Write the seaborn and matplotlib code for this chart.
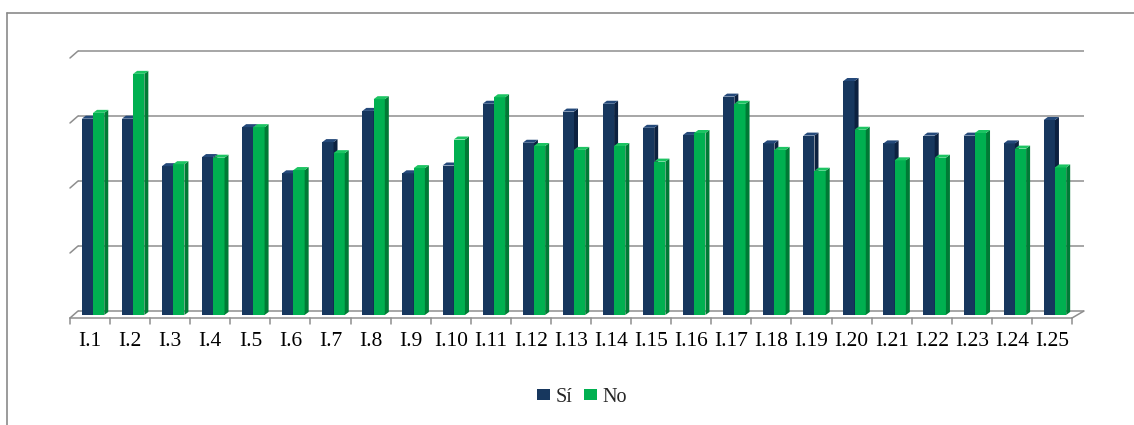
import matplotlib
matplotlib.use("Agg")
import matplotlib.pyplot as plt
from matplotlib.lines import Line2D
from matplotlib.patches import Polygon
from matplotlib.transforms import ScaledTranslation
import pandas as pd
import seaborn as sns

# ---- data ----------------------------------------------------------------
categories = ["I.1", "I.2", "I.3", "I.4", "I.5", "I.6", "I.7", "I.8", "I.9",
              "I.10", "I.11", "I.12", "I.13", "I.14", "I.15", "I.16", "I.17",
              "I.18", "I.19", "I.20", "I.21", "I.22", "I.23", "I.24", "I.25"]
si_values = [30.2, 30.2, 22.9, 24.3, 28.9, 21.8, 26.6, 31.4, 21.8, 23.0,
             32.5, 26.5, 31.3, 32.5, 28.8, 27.7, 33.6, 26.4, 27.6, 36.0,
             26.4, 27.6, 27.6, 26.4, 30.0]
no_values = [31.1, 37.1, 23.2, 24.2, 28.9, 22.3, 24.9, 33.2, 22.6, 27.0,
             33.5, 26.0, 25.4, 26.0, 23.6, 28.0, 32.5, 25.4, 22.2, 28.5,
             23.8, 24.2, 28.0, 25.6, 22.7]
series_names = ["Sí", "No"]
grid_values = [0, 10, 20, 30, 40]

# ---- styling ---------------------------------------------------------------
FRONT = {"Sí": "#17375E", "No": "#00B050"}
SIDE = {"Sí": "#0C2140", "No": "#007A35"}
TOP = {"Sí": "#24497A", "No": "#1CC462"}
GRID = "#8E8E8E"
SERIF = ["Liberation Serif", "DejaVu Serif"]

df = pd.DataFrame({
    "cat": categories * 2,
    "val": si_values + no_values,
    "serie": [series_names[0]] * len(categories) + [series_names[1]] * len(categories),
})

W, H, DPI = 1134, 425, 100
fig = plt.figure(figsize=(W / DPI, H / DPI), dpi=DPI)
sns.set_style("white")
plt.rcParams["font.family"] = SERIF

# plane in which the bar fronts sit
ax_l, ax_r, ax_b, ax_t = 73, 1075, 315, 55
ax = fig.add_axes([ax_l / W, 1 - ax_b / H, (ax_r - ax_l) / W, (ax_b - ax_t) / H])

sns.barplot(data=df, x="cat", y="val", hue="serie", hue_order=series_names,
            palette=FRONT, width=0.56, saturation=1, legend=True, ax=ax,
            linewidth=0, zorder=3)

ax.set_xlim(-0.5, len(categories) - 0.5)
ax.set_ylim(grid_values[0], grid_values[-1])
for s in ax.spines.values():
    s.set_visible(False)
ax.set_yticks([])
ax.set_xlabel("")
ax.set_ylabel("")

# pixel -> data scale
sx = (len(categories)) / (ax_r - ax_l)
sy = (grid_values[-1] - grid_values[0]) / (ax_b - ax_t)

# back wall (gridlines) and front floor edge, offset in depth
back_dx, back_dy = 5, 4
front_dx, front_dy = -3, -3
x0, x1 = -0.5, len(categories) - 0.5
for g in grid_values:
    ax.plot([x0 + back_dx * sx, x1 + 9 * sx], [g + back_dy * sy] * 2,
            color=GRID, lw=1.1, zorder=1, clip_on=False, solid_capstyle="butt")
    ax.plot([x0 + front_dx * sx, x0 + back_dx * sx],
            [g + front_dy * sy, g + back_dy * sy],
            color=GRID, lw=1.1, zorder=1, clip_on=False)
# floor front edge and right diagonal
ax.plot([x0 + front_dx * sx, x1 + front_dx * sx], [front_dy * sy] * 2,
        color=GRID, lw=1.1, zorder=1, clip_on=False)
ax.plot([x1 + front_dx * sx, x1 + 9 * sx], [front_dy * sy, back_dy * sy],
        color=GRID, lw=1.1, zorder=1, clip_on=False)
# category tick marks along the front floor edge
for k in range(len(categories) + 1):
    xk = x0 + k + front_dx * sx
    ax.plot([xk, xk], [front_dy * sy, (front_dy - 6) * sy],
            color=GRID, lw=1.1, zorder=1, clip_on=False)

# depth faces on every bar
depth_x, depth_y = 4 * sx, 3 * sy
for i, (name, cont) in enumerate(zip(series_names, ax.containers)):
    base_z = 3 + i * 0.2
    for bar in cont:
        bar.set_zorder(base_z)
        bx, bw, bh = bar.get_x(), bar.get_width(), bar.get_height()
        side = Polygon([(bx + bw, 0), (bx + bw + depth_x, depth_y),
                        (bx + bw + depth_x, bh + depth_y), (bx + bw, bh)],
                       closed=True, facecolor=SIDE[name], edgecolor="none",
                       zorder=base_z + 0.1, clip_on=False)
        top = Polygon([(bx, bh), (bx + bw, bh), (bx + bw + depth_x, bh + depth_y),
                       (bx + depth_x, bh + depth_y)],
                      closed=True, facecolor=TOP[name], edgecolor="none",
                      zorder=base_z + 0.1, clip_on=False)
        ax.add_patch(side)
        ax.add_patch(top)

# category labels below the front floor edge
ax.set_xticks(range(len(categories)))
ax.set_xticklabels(categories, fontsize=15.5, family=SERIF, color="black")
ax.tick_params(axis="x", length=0, pad=12.5)
shift = ScaledTranslation(front_dx / DPI, 0, fig.dpi_scale_trans)
for lab in ax.get_xticklabels():
    lab.set_transform(lab.get_transform() + shift)

# legend below the chart
handles, labels = ax.get_legend_handles_labels()
ax.get_legend().remove()
fig.legend(handles, labels, loc="center", ncol=2,
           bbox_to_anchor=(582 / W, 1 - 397 / H), frameon=False,
           prop={"family": SERIF, "size": 14.5},
           handlelength=0.65, handleheight=0.45, handletextpad=0.25,
           columnspacing=0.6)

# outer chart-area frame
fig.add_artist(Line2D([7 / W, 7 / W], [0, 1 - 13 / H], color="#8A8A8A", lw=1.2))
fig.add_artist(Line2D([7 / W, 1], [1 - 13 / H, 1 - 13 / H], color="#8A8A8A", lw=1.2))

fig.savefig("out.png", dpi=DPI, facecolor="white")
